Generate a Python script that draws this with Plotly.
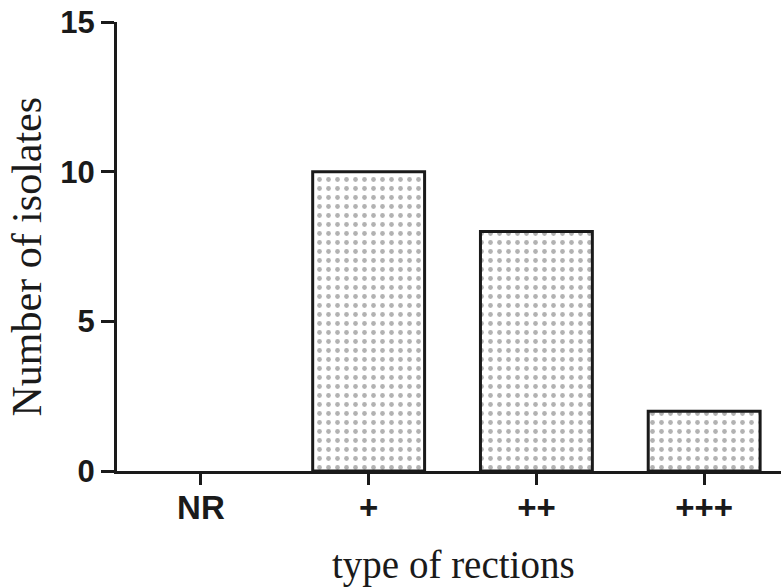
import plotly.graph_objects as go

categories = ["NR", "+", "++", "+++"]
values = [0, 10, 8, 2]
y_ticks = [0, 5, 10, 15]
x_title = "type of rections"
y_title = "Number of isolates"

fig = go.Figure()
fig.add_trace(go.Bar(
    x=categories, y=values, width=0.667,
    marker=dict(color="white",
                line=dict(color="#1a1a1a", width=[0, 3, 3, 3]),
                pattern=dict(shape=".", size=9, solidity=0.22,
                             fgcolor="#666666", bgcolor="white")),
))
fig.update_layout(
    width=781, height=588,
    margin=dict(l=117, r=0, t=22, b=117),
    plot_bgcolor="white", paper_bgcolor="white",
    showlegend=False,
    xaxis=dict(
        range=[-0.5, 3.458], showline=True, linecolor="#1a1a1a", linewidth=3,
        automargin=False,
        ticks="outside", ticklen=11, tickwidth=3, tickcolor="#1a1a1a",
        ticklabelstandoff=-6,
        tickfont=dict(family="Liberation Sans", size=33, color="#1a1a1a", weight="bold"),
        showgrid=False, zeroline=False,
    ),
    yaxis=dict(
        range=[0, 15], tickvals=y_ticks, showline=True, linecolor="#1a1a1a", linewidth=3,
        automargin=False, ticklabeloverflow="allow",
        ticks="outside", ticklen=13, tickwidth=3, tickcolor="#1a1a1a",
        tickfont=dict(family="Liberation Sans", size=31, color="#1a1a1a", weight="bold"),
        showgrid=False, zeroline=False,
    ),
    annotations=[
        dict(text=x_title, xref="paper", yref="paper", x=0.5, y=0,
             xanchor="center", yanchor="middle", xshift=4, yshift=-94,
             showarrow=False,
             font=dict(family="Liberation Serif", size=39, color="#1a1a1a")),
        dict(text=y_title, xref="paper", yref="paper", x=0, y=0.5,
             xanchor="center", yanchor="middle", xshift=-91, yshift=-10,
             textangle=-90, showarrow=False,
             font=dict(family="Liberation Serif", size=42, color="#1a1a1a")),
    ],
)
# remove the page's default 8px body margin so the figure fills the window
fig.write_html("out.html", config={"displayModeBar": False},
               post_script="document.body.style.margin='0';")
